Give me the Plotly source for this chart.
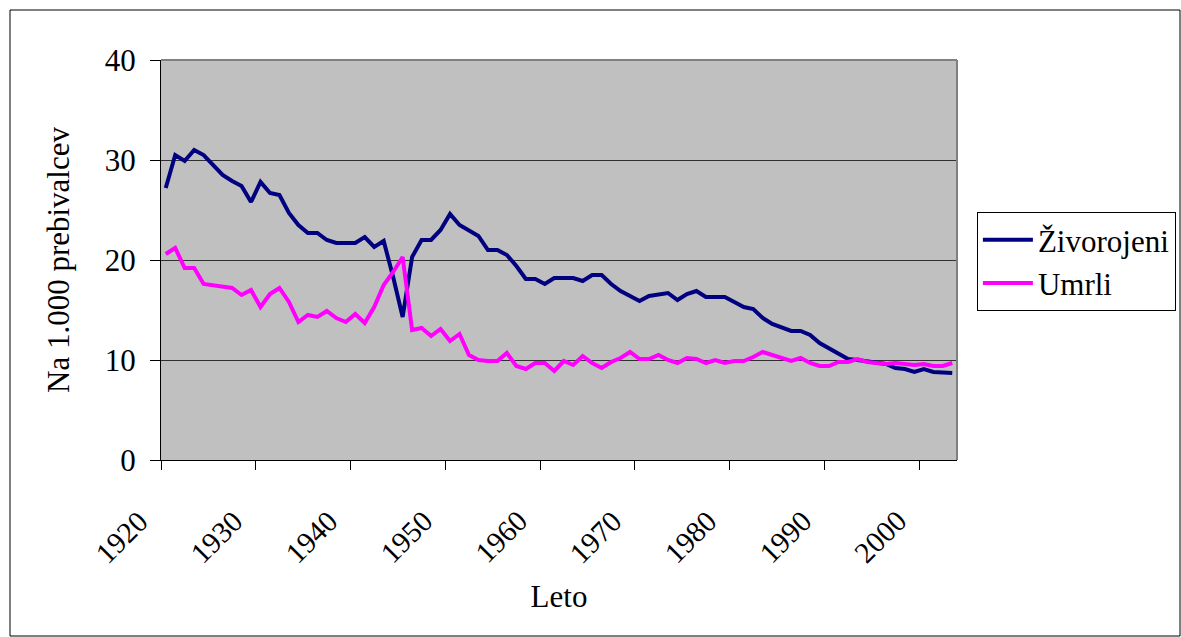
import plotly.graph_objects as go

years = list(range(1920, 2004))

zivorojeni = [
    27.2, 30.5, 29.9, 31.0, 30.5, 29.5, 28.5, 27.9, 27.4, 25.8,
    27.8, 26.7, 26.5, 24.7, 23.5, 22.7, 22.7, 22.0, 21.7, 21.7,
    21.7, 22.3, 21.3, 21.9, 18.3, 14.3, 20.3, 22.0, 22.0, 23.0,
    24.6, 23.5, 22.9, 22.4, 21.0, 21.0, 20.5, 19.4, 18.1, 18.1,
    17.6, 18.2, 18.2, 18.2, 17.9, 18.5, 18.5, 17.6, 16.9, 16.4,
    15.9, 16.4, 16.5, 16.7, 16.0, 16.6, 16.9, 16.3, 16.3, 16.3,
    15.8, 15.3, 15.1, 14.2, 13.6, 13.2, 12.9, 12.9, 12.5, 11.7,
    11.2, 10.7, 10.1, 10.0, 9.9, 9.7, 9.6, 9.2, 9.1, 8.8,
    9.1, 8.8, 8.8, 8.7,
]

umrli = [
    20.6, 21.2, 19.2, 19.2, 17.6, 17.5, 17.3, 17.2, 16.5, 17.0,
    15.3, 16.6, 17.2, 15.8, 13.8, 14.5, 14.3, 14.9, 14.2, 13.8,
    14.6, 13.7, 15.3, 17.5, 18.8, 20.3, 13.0, 13.2, 12.4, 13.1,
    11.9, 12.6, 10.5, 10.0, 9.9, 9.9, 10.7, 9.4, 9.1, 9.7,
    9.7, 8.9, 9.9, 9.5, 10.4, 9.7, 9.2, 9.8, 10.2, 10.8,
    10.1, 10.1, 10.5, 10.0, 9.7, 10.2, 10.1, 9.7, 10.0, 9.7,
    9.9, 9.9, 10.3, 10.8, 10.5, 10.2, 9.9, 10.2, 9.7, 9.4,
    9.4, 9.8, 9.8, 10.1, 9.8, 9.7, 9.6, 9.7, 9.6, 9.5,
    9.6, 9.4, 9.4, 9.7,
]

tick_labels = ["1920", "1930", "1940", "1950", "1960", "1970", "1980", "1990", "2000"]
y_ticks = [0, 10, 20, 30, 40]

FONT = "Liberation Serif"
FS = 31

fig = go.Figure()
fig.add_trace(go.Scatter(x=years, y=zivorojeni, mode="lines", name="Živorojeni",
                         line=dict(color="#000080", width=4)))
fig.add_trace(go.Scatter(x=years, y=umrli, mode="lines", name="Umrli",
                         line=dict(color="#FF00FF", width=4)))

tick_pos = [int(t) - 0.5 for t in tick_labels]

annotations = [
    dict(x=p, y=-0.105, xref="x", yref="paper", text=t, showarrow=False,
         textangle=-45, xanchor="right", yanchor="top", xshift=-4,
         font=dict(family=FONT, size=29.5, color="black"))
    for p, t in zip(tick_pos, tick_labels)
]

fig.update_layout(
    width=1181, height=637,
    margin=dict(l=161, r=224, t=60, b=177, autoexpand=False),
    paper_bgcolor="white",
    plot_bgcolor="#C0C0C0",
    font=dict(family=FONT, size=FS, color="black"),
    showlegend=True,
    legend=dict(x=1.025, y=0.62, xanchor="left", yanchor="top",
                bgcolor="white", bordercolor="black", borderwidth=1,
                font=dict(family=FONT, size=FS), itemwidth=50, tracegroupgap=0),
    xaxis=dict(
        range=[1919.5, 2003.5], tickmode="array", tickvals=tick_pos,
        showticklabels=False, ticks="outside", ticklen=9, tickcolor="black", tickwidth=1,
        showline=True, linecolor="black", linewidth=1, showgrid=False, zeroline=False,
        title=dict(text="Leto", font=dict(family=FONT, size=FS), standoff=116),
    ),
    yaxis=dict(
        range=[0, 40], tickmode="array", tickvals=y_ticks,
        ticks="outside", ticklen=10, tickcolor="black", tickwidth=1,
        showline=True, linecolor="black", linewidth=1, tickfont=dict(family=FONT, size=FS),
        showgrid=True, gridcolor="#303030", gridwidth=1, zeroline=False,
        ticklabelstandoff=8,
        title=dict(text="Na 1.000 prebivalcev", font=dict(family=FONT, size=FS), standoff=25),
    ),
    annotations=annotations,
    shapes=[
        dict(type="line", xref="paper", yref="paper", x0=0, x1=1, y0=1, y1=1,
             line=dict(color="#808080", width=2)),
        dict(type="line", xref="paper", yref="paper", x0=1, x1=1, y0=0, y1=1,
             line=dict(color="#808080", width=2)),
        dict(type="rect", xref="paper", yref="paper",
             x0=(10 - 161) / 796, x1=(1180 - 161) / 796,
             y0=(460 - 636) / 400, y1=(460 - 10) / 400,
             line=dict(color="black", width=1)),
    ],
)

fig.write_html("out.html", config={"displayModeBar": False},
               post_script="document.body.style.margin='0';document.body.style.overflow='hidden';")
